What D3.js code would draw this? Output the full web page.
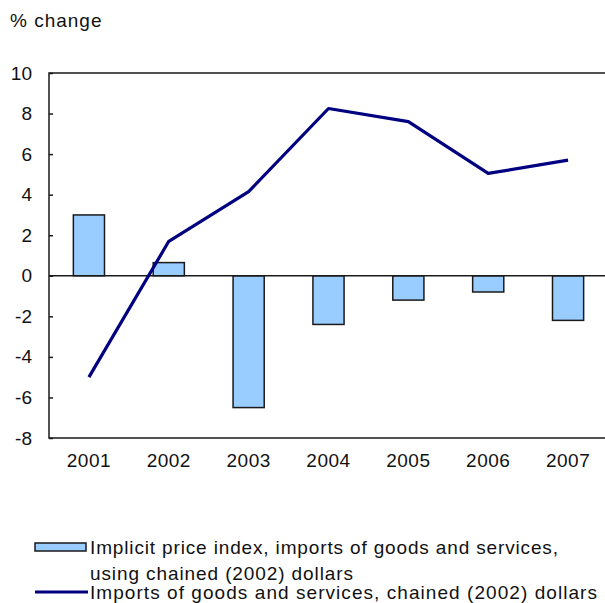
<!DOCTYPE html>
<html><head><meta charset="utf-8">
<script src="https://cdn.jsdelivr.net/npm/d3@7"></script>
<style>
html,body{margin:0;padding:0;background:#fff;}
svg{display:block;font-family:"Liberation Sans",Arial,sans-serif;}
</style></head>
<body>
<svg id="c" width="605" height="603"></svg>
<script>
const years = ["2001","2002","2003","2004","2005","2006","2007"];
const priceIndex = [3.0, 0.65, -6.5, -2.4, -1.2, -0.8, -2.2];
const imports = [-5.0, 1.7, 4.15, 8.25, 7.6, 5.05, 5.7];
const yTicks = [10,8,6,4,2,0,-2,-4,-6,-8];
const barLabel = ["Implicit price index, imports of goods and services,", "using chained (2002) dollars"];
const lineLabel = "Imports of goods and services, chained (2002) dollars";

const svg = d3.select("#c");
const L = 49, R = 608, T = 73, B = 438;
const x = d3.scaleBand().domain(years).range([L, R]).paddingInner(0.61).paddingOuter(0.305);
const y = d3.scaleLinear().domain([-8, 10]).range([B, T]);
const cx = d => x(d) + x.bandwidth()/2;

svg.append("text").attr("x", 10).attr("y", 27).attr("font-size", 19).attr("letter-spacing", 1).attr("fill", "#111").text("% change");

// bars
svg.append("g").selectAll("rect").data(years).join("rect")
  .attr("x", d => x(d))
  .attr("width", x.bandwidth())
  .attr("y", (d,i) => y(Math.max(0, priceIndex[i])))
  .attr("height", (d,i) => Math.abs(y(priceIndex[i]) - y(0)))
  .attr("fill", "#99ccff").attr("stroke", "#1a1a1a").attr("stroke-width", 1.5);

// zero line
svg.append("line").attr("x1", L).attr("x2", R).attr("y1", y(0)).attr("y2", y(0))
  .attr("stroke", "#1a1a1a").attr("stroke-width", 1.5);

// frame
svg.append("path").attr("d", `M${R},${T}H${L}V${B}H${R}`).attr("fill", "none")
  .attr("stroke", "#1a1a1a").attr("stroke-width", 1.5);

// y axis
const yAxis = d3.axisLeft(y).tickValues(yTicks).tickSize(-4).tickPadding(17).tickFormat(d => String(d));
const gy = svg.append("g").attr("transform", `translate(${L},0)`).call(yAxis);
gy.select(".domain").remove();
gy.selectAll("line").attr("stroke", "#1a1a1a").attr("stroke-width", 1.5);
gy.selectAll("text").attr("font-size", 19).attr("fill", "#111").attr("font-family", "Liberation Sans, Arial, sans-serif");

// x axis labels
const xAxis = d3.axisBottom(x).tickSize(0).tickPadding(16);
const gx = svg.append("g").attr("transform", `translate(0,${B})`).call(xAxis);
gx.select(".domain").remove();
gx.selectAll("text").attr("font-size", 19).attr("letter-spacing", 0.5).attr("fill", "#111").attr("font-family", "Liberation Sans, Arial, sans-serif");

// line
const line = d3.line().x((d,i) => cx(years[i])).y(d => y(d));
svg.append("path").datum(imports).attr("d", line).attr("fill", "none")
  .attr("stroke", "#000080").attr("stroke-width", 3.2).attr("stroke-linejoin", "round");

// legend
const lg = svg.append("g");
lg.append("rect").attr("x", 35).attr("y", 543).attr("width", 51).attr("height", 8)
  .attr("fill", "#99ccff").attr("stroke", "#1a1a1a").attr("stroke-width", 1.5);
lg.append("text").attr("x", 90).attr("y", 554).attr("font-size", 19).attr("fill", "#111")
  .attr("textLength", 468).attr("lengthAdjust", "spacing").text(barLabel[0]);
lg.append("text").attr("x", 90).attr("y", 580).attr("font-size", 19).attr("fill", "#111")
  .attr("textLength", 263).attr("lengthAdjust", "spacing").text(barLabel[1]);
lg.append("line").attr("x1", 35).attr("x2", 88).attr("y1", 592).attr("y2", 592)
  .attr("stroke", "#000080").attr("stroke-width", 3);
lg.append("text").attr("x", 90).attr("y", 599).attr("font-size", 19).attr("fill", "#111")
  .attr("textLength", 507).attr("lengthAdjust", "spacing").text(lineLabel);
</script>
</body></html>
